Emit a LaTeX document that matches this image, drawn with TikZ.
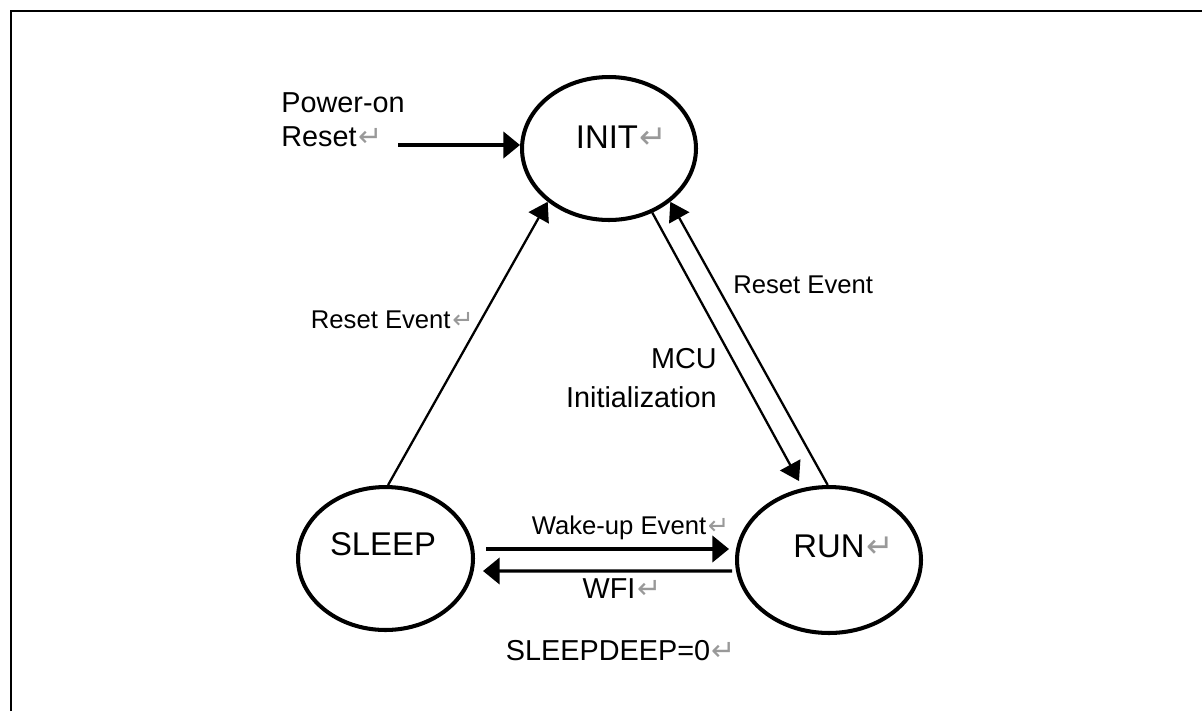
\documentclass[tikz,border=0pt]{standalone}
\usepackage{fontspec}
\setmainfont{Liberation Sans}
\newfontfamily\retfont{DejaVu Sans}
\usepackage{xcolor}
\usetikzlibrary{shapes}
\usetikzlibrary{arrows.meta}
\definecolor{retgray}{gray}{0.6}
\newcommand\stfont{\fontsize{18.7}{22}\selectfont}
\newcommand\lbfont{\fontsize{16.4}{19.8}\selectfont}
\newcommand\evfont{\fontsize{14.6}{17.5}\selectfont}
\newcommand\rt{\rlap{\kern1pt\textcolor{retgray}{\retfont\scalebox{1.0}{↵}}}}

\begin{document}
\begin{tikzpicture}[x=0.02cm,y=-0.02cm,>={Triangle[length=9.5pt,width=15pt]}]
\useasboundingbox (0,0) rectangle (1202,711);
\begin{scope}

\tikzstyle{mode}=[draw, ellipse, line width=2.3pt, inner sep=0pt]
\tikzstyle{modetext}=[font=\stfont, inner sep=0pt, anchor=base]
\tikzstyle{ev}=[font=\evfont, inner sep=0pt]
\tikzstyle{thick arrow}=[->, line width=1.8pt]
\tikzstyle{thin arrow}=[-{Triangle[length=10.5pt,width=13pt]}, line width=1.3pt]

% frame
\draw[line width=1.4pt] (11,711) -- (11,11) -- (1202,11);

%% STATES
\node (init) [mode, minimum width=3.48cm, minimum height=2.86cm] at (609,148.5) {};
\node (sleep) [mode, minimum width=3.5cm, minimum height=2.86cm] at (385.5,558.5) {};
\node (run) [mode, minimum width=3.68cm, minimum height=2.92cm] at (829,560) {};

\node (init-txt) [modetext] at (607,148) {INIT\rt};
\node (sleep-txt) [modetext] at (383,555) {SLEEP};
\node (run-txt) [modetext] at (829,557) {RUN\rt};

%% POWER-ON
\node (por) [font=\lbfont, align=left, anchor=north west, inner sep=0pt] at (281,92) {Power-on\\Reset\rt};
\coordinate (por-start) at (398,145);
\draw[thick arrow, line width=1.9pt] (por-start) -- (por-start -| init.west);

%% TRANSITIONS
\draw[thin arrow] (sleep.88) -- (init.-139);
\draw[thin arrow, shorten >=4.5pt] (init.-56.5) -- (run.110.4);
\draw[thin arrow] (run.91) -- (init.-41.2);
\draw[thick arrow] ([shift={(11,-9.5)}]sleep.east) -- ([shift={(-6,-11)}]run.west);
\draw[thick arrow] ([shift={(-3,11)}]run.west) -- ([shift={(8,12.5)}]sleep.east);

%% LABELS
\node (lbl-reset1) [ev, anchor=base east] at (451,328) {Reset Event\rt};
\node (lbl-reset2) [ev, anchor=base west] at (733,293) {Reset Event};
\node (lbl-mcu) [font=\fontsize{16.4}{22.1}\selectfont, align=right, anchor=north east, inner sep=0pt] at (717,348) {MCU\\Initialization};
\node (lbl-wake) [ev, anchor=base] at (619,534) {Wake-up Event\rt};
\node (lbl-wfi) [font=\lbfont, inner sep=0pt, anchor=base] at (609,598) {WFI\rt};
\node (lbl-deep) [font=\lbfont, inner sep=0pt, anchor=base] at (608,660) {SLEEPDEEP=0\rt};

\end{scope}
\end{tikzpicture}
\end{document}
